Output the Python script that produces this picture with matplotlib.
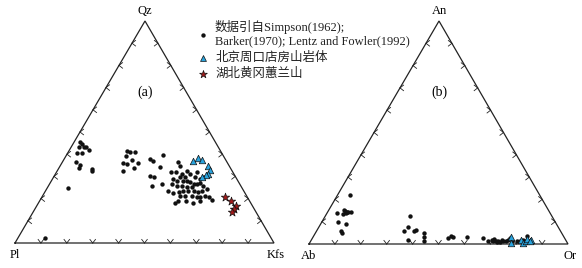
import numpy as np
import matplotlib.pyplot as plt

plt.rcParams['font.family'] = ['Liberation Serif', 'Noto Sans CJK SC', 'DejaVu Sans']

# ---- data (percent) ----
# diagram (a): Qz - Kfs (Pl = rest)
lit_qz = [45.3, 44.6, 43.1, 43.4, 43.4, 42.0, 40.5, 40.5, 36.3, 35.1, 33.6, 33.3, 32.3, 24.8, 2.3,
          41.3, 40.8, 40.8, 39.3, 37.4, 35.9, 35.6, 35.9, 33.6, 32.6, 37.8, 37.1, 39.8, 34.1, 30.3,
          29.6, 25.8, 26.6,
          36.3, 34.8, 32.1, 31.8, 31.1, 29.9, 29.6, 28.8, 28.1, 28.1, 28.1, 27.3, 26.6, 26.6, 26.9,
          25.8, 25.1, 25.1, 25.8, 25.8, 26.6, 23.6, 22.4, 22.8, 23.6, 23.6, 23.6, 22.8, 23.6, 24.3,
          21.3, 21.3, 21.3, 20.6, 20.6, 21.3, 20.6, 19.4, 17.9, 19.1, 19.1, 17.9, 19.1, 31.1, 29.6,
          28.8, 31.8, 32.6, 29.6]
lit_kfs = [2.4, 3.4, 3.2, 4.7, 5.7, 7.3, 3.8, 5.4, 5.4, 7.5, 7.9, 12.9, 13.5, 7.9, 10.5,
           22.4, 24.0, 25.9, 23.2, 26.3, 23.8, 25.3, 29.6, 28.9, 25.5, 33.2, 34.7, 37.1, 38.7, 36.9,
           38.9, 39.9, 43.3,
           44.9, 46.3, 44.0, 46.3, 48.7, 50.6, 48.9, 46.7, 48.3, 50.6, 52.2, 53.9, 55.6, 56.8, 57.9,
           59.8, 55.6, 53.7, 51.4, 49.5, 47.2, 47.4, 49.9, 51.7, 53.2, 55.1, 57.1, 59.4, 60.3, 61.8,
           53.0, 54.9, 57.5, 59.8, 61.1, 62.7, 64.7, 66.2, 52.8, 53.5, 56.4, 59.9, 61.8, 52.0, 54.7,
           57.0, 54.2, 50.0, 58.2]
zkd_qz = [37.1, 38.1, 37.4, 34.8, 32.9, 31.1, 30.8, 29.6]
zkd_kfs = [50.0, 51.7, 53.4, 57.2, 58.9, 59.0, 58.3, 57.3]
hg_qz = [20.9, 18.8, 16.8, 15.3, 13.8]
hg_kfs = [70.7, 74.0, 76.8, 77.0, 77.0]

# diagram (b): An - Or (Ab = rest)
lit_an = [22.0, 13.9, 15.2, 14.6, 14.2, 14.3, 14.5, 13.8, 13.5, 9.7, 9.0, 6.0, 4.8,
          12.7, 7.8, 5.7, 5.7, 6.3, 1.8, 4.8, 3.3, 1.5, 2.5, 3.7, 3.3, 3.3,
          2.7, 1.5, 1.8, 2.2, 1.5, 1.2, 0.7, 1.5, 1.2, 1.8, 2.7, 1.2, 1.2, 1.5, 1.8, 3.4, 1.2,
          1.2, 0.7, 1.8]
lit_or = [4.8, 3.9, 5.7, 6.6, 7.4, 8.0, 8.8, 7.4, 6.3, 6.2, 9.8, 9.2, 10.5,
          32.6, 34.5, 33.9, 37.7, 38.2, 37.2, 42.1, 42.8, 43.7, 52.5, 52.8, 54.1, 59.3,
          66.0, 68.5, 69.6, 70.3, 71.5, 72.5, 73.3, 74.3, 75.5, 76.1, 76.3, 77.6, 79.6, 80.8, 81.9, 82.6, 84.1,
          70.3, 72.1, 73.5]
zkd_an = [3.3, 0.6, 1.8, 0.6, 1.2, 2.1, 1.8, 1.2]
zkd_or = [76.4, 77.7, 81.0, 82.5, 83.2, 83.0, 84.7, 84.7]

legend_lines = ['数据引自Simpson(1962);', 'Barker(1970); Lentz and Fowler(1992)']
legend_zkd = '北京周口店房山岩体'
legend_hg = '湖北黄冈蕙兰山'

fig = plt.figure(figsize=(5.82, 2.68), dpi=100)
ax = fig.add_axes([0, 0, 1, 1])
ax.set_xlim(0, 582)
ax.set_ylim(268, 0)
ax.axis('off')


def make_tern(left, right, top):
    left, right, top = map(np.array, (left, right, top))

    def f(t, r):
        t = np.asarray(t) / 100.0
        r = np.asarray(r) / 100.0
        l = 1 - t - r
        p = np.outer(l, left) + np.outer(r, right) + np.outer(t, top)
        return p[:, 0], p[:, 1]
    return f


def frame(left, right, top, names, tag):
    L, R, T = np.array(left), np.array(right), np.array(top)
    ax.plot([L[0], R[0], T[0], L[0]], [L[1], R[1], T[1], L[1]], color='#222222', lw=0.9,
            solid_joinstyle='miter', zorder=2)
    arm = 4.5
    ang = np.radians(38)

    def chev(p, d):
        d = np.array(d, float)
        d /= np.linalg.norm(d)
        for a in (ang, -ang):
            rot = np.array([[np.cos(a), -np.sin(a)], [np.sin(a), np.cos(a)]])
            q = p + arm * rot @ d
            ax.plot([p[0], q[0]], [p[1], q[1]], color='#222222', lw=0.6, zorder=2)

    for k in range(1, 10):
        fr = k / 10
        chev(L + fr * (R - L), (0, -1))
        chev(L + fr * (T - L), (1, 0))
        chev(R + fr * (T - R), (-1, 0))
    ax.text(L[0], L[1] + 12, names[0], ha='center', va='center', fontsize=9)
    ax.text(R[0] + 2, R[1] + 12, names[1], ha='center', va='center', fontsize=9)
    ax.text(T[0], T[1] - 10, names[2], ha='center', va='center', fontsize=9)
    ax.text(T[0], 92, tag, ha='center', va='center', fontsize=10)


A = ((15, 243), (274, 243), (145, 21))
B = ((309, 244), (568, 244), (439, 21))
frame(*A, ('Pl', 'Kfs', 'Qz'), '(a)')
frame(*B, ('Ab', 'Or', 'An'), '(b)')
ta = make_tern(*A)
tb = make_tern(*B)

dot = dict(s=10, c='#111111', linewidths=0, zorder=3)
tri = dict(marker='^', s=22, c='#29a3dd', edgecolors='#111111', linewidths=0.5, zorder=4)
star = dict(marker='*', s=40, c='#a01a1a', edgecolors='#111111', linewidths=0.5, zorder=4)

ax.scatter(*ta(lit_qz, lit_kfs), **dot)
ax.scatter(*ta(zkd_qz, zkd_kfs), **tri)
ax.scatter(*ta(hg_qz, hg_kfs), **star)
ax.scatter(*tb(lit_an, lit_or), **dot)
ax.scatter(*tb(zkd_an, zkd_or), **tri)

# legend
ax.scatter([203], [34.5], **dot)
ax.scatter([203], [57.5], s=18, marker='^', c='#29a3dd', edgecolors='#111111', linewidths=0.5)
ax.scatter([203], [74], s=34, marker='*', c='#a01a1a', edgecolors='#111111', linewidths=0.5)
ax.text(215, 27, legend_lines[0], ha='left', va='center', fontsize=9, color='#222222')
ax.text(215, 41, legend_lines[1], ha='left', va='center', fontsize=9, color='#222222')
ax.text(216, 57.5, legend_zkd, ha='left', va='center', fontsize=9, color='#222222')
ax.text(216, 74, legend_hg, ha='left', va='center', fontsize=9, color='#222222')

fig.savefig('out.png', dpi=100)
